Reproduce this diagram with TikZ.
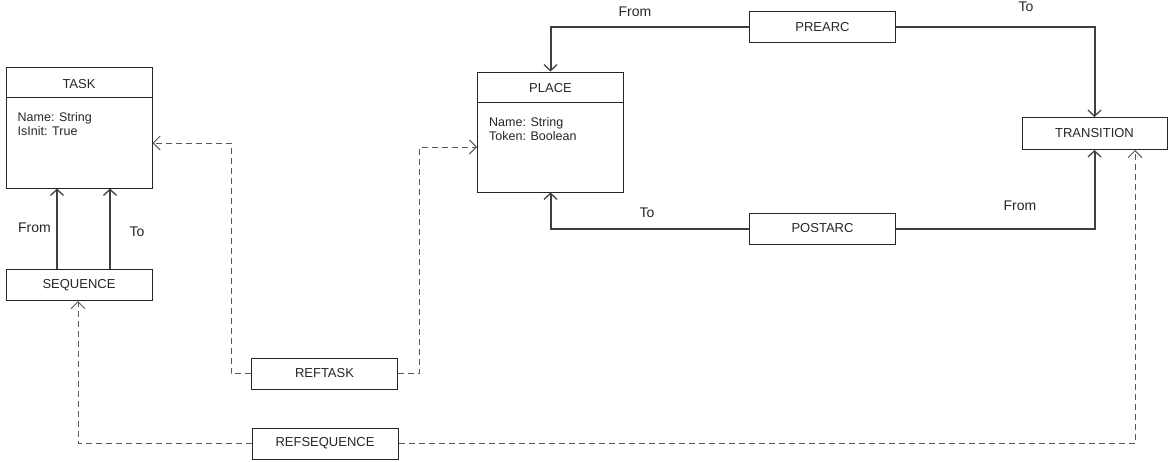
\documentclass[tikz,border=0pt]{standalone}
\usepackage{fontspec}
\setmainfont{Liberation Sans}
\usetikzlibrary{arrows.meta}
\begin{document}
\begin{tikzpicture}[x=1pt,y=-1pt,
  box/.style={draw=black!85,line width=1pt,minimum width=146pt,minimum height=31pt,
    inner sep=0pt,font=\fontsize{13}{15}\selectfont,text=black!85},
  classbox/.style={draw=black!85,line width=1pt,minimum width=146pt,inner sep=0pt},
  title/.style={font=\fontsize{13}{15}\selectfont,text=black!85,inner sep=0pt},
  attrs/.style={font=\fontsize{12.5}{14}\selectfont,text=black!85,align=left,
    anchor=north west,inner sep=0pt},
  assoc/.style={draw=black!75,line width=2pt,
    -{Straight Barb[length=6pt,width=13pt,line width=1.3pt]}},
  ref/.style={draw=black!65,line width=1pt,dash pattern=on 6pt off 4pt,
    -{Straight Barb[length=7pt,width=14pt]}},
  lbl/.style={font=\fontsize{14}{16}\selectfont,text=black!85,inner sep=0pt}
]
\useasboundingbox (0,0) rectangle (1169,461);

% TASK class
\node[classbox,minimum height=121pt] (task) at (79,127.5) {};
\draw[draw=black!85,line width=1pt] ([yshift=-31pt]task.north west) -- ([yshift=-31pt]task.north east);
\node[title] (tasktitle) at (79,84) {TASK};
\node[attrs] (taskattrs) at (17.5,112.5) {Name: String\\IsInit: True};

% PLACE class
\node[classbox,minimum height=120pt] (place) at (550.5,132) {};
\draw[draw=black!85,line width=1pt] ([yshift=-31pt]place.north west) -- ([yshift=-31pt]place.north east);
\node[title] (placetitle) at (550.5,88) {PLACE};
\node[attrs] (placeattrs) at (489,117) {Name: String\\Token: Boolean};

% plain boxes
\node[box] (seq) at (79,285) {SEQUENCE};
\node[box] (reftask) at (324.5,373.5) {REFTASK};
\node[box] (refseq) at (325,443.5) {REFSEQUENCE};
\node[box] (prearc) at (822.5,27) {PREARC};
\node[box] (postarc) at (822.5,228.5) {POSTARC};
\node[box,minimum width=145pt,minimum height=32pt] (trans) at (1094.5,133.5) {TRANSITION};

% sequence links
\draw[assoc] ([xshift=-22pt]seq.north) -- ([xshift=-22pt]task.south);
\draw[assoc] ([xshift=31pt]seq.north) -- ([xshift=31pt]task.south);
\node[lbl] (seqfrom) at (34.5,228) {From};
\node[lbl] (seqto) at (137,232) {To};

% arcs of the net
\draw[assoc] (prearc.west) -| (place.north);
\draw[assoc] (prearc.east) -| (trans.north);
\draw[assoc] (postarc.west) -| (place.south);
\draw[assoc] (postarc.east) -| (trans.south);
\node[lbl] (prefrom) at (635,12) {From};
\node[lbl] (preto) at (1026,7) {To};
\node[lbl] (postto) at (647,213) {To};
\node[lbl] (postfrom) at (1020,206) {From};

% references
\draw[ref] (reftask.west) -- ++(-20,0) |- ([yshift=-15.5pt]task.east);
\draw[ref] (reftask.east) -- ++(21,0) |- ([yshift=-15pt]place.west);
\draw[ref] (refseq.west) -| ([xshift=-1pt]seq.south);
\draw[ref] (refseq.east) -| ([xshift=40.5pt]trans.south);
\end{tikzpicture}
\end{document}
